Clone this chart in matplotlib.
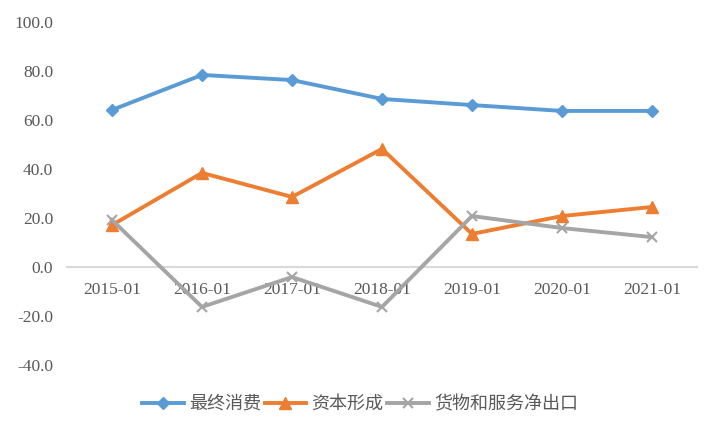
import matplotlib
matplotlib.use("Agg")
import matplotlib.pyplot as plt

plt.rcParams["font.family"] = ["Liberation Serif", "Noto Sans CJK SC"]

categories = ["2015-01", "2016-01", "2017-01", "2018-01", "2019-01", "2020-01", "2021-01"]
final_consumption = [64.1, 78.4, 76.3, 68.6, 66.1, 63.7, 63.7]
capital_formation = [17.1, 38.4, 28.6, 48.2, 13.5, 20.8, 24.5]
net_exports = [19.2, -16.3, -4.1, -16.3, 20.8, 15.9, 12.2]
series_names = ["最终消费", "资本形成", "货物和服务净出口"]
y_ticks = [-40, -20, 0, 20, 40, 60, 80, 100]

fig = plt.figure(figsize=(7.2, 4.32), dpi=100)
ax = fig.add_axes([67/720, 1-365/432, 630/720, 343/432])

for s in ["top", "right", "left"]:
    ax.spines[s].set_visible(False)
ax.spines["bottom"].set_position(("data", 0))
ax.spines["bottom"].set_color("#D9D9D9")
ax.spines["bottom"].set_linewidth(1.5)
ax.spines["bottom"].set_zorder(0)

x = list(range(len(categories)))
ax.plot(x, final_consumption, color="#5B9BD5", lw=2.8, marker="D", ms=6.5, label=series_names[0])
ax.plot(x, capital_formation, color="#ED7D31", lw=2.8, marker="^", ms=8, label=series_names[1])
ax.plot(x, net_exports, color="#A5A5A5", lw=2.8, marker="x", ms=7, mew=1.5, label=series_names[2])

ax.set_xlim(-0.5, len(categories) - 0.5)
ax.set_ylim(-40, 100)
ax.set_yticks(y_ticks)
ax.set_yticklabels([f"{v:.1f}" for v in y_ticks])
ax.set_xticks(x)
ax.set_xticklabels(categories)
ax.tick_params(axis="both", length=0, labelsize=12.5, labelcolor="#595959")
ax.tick_params(axis="x", pad=11)
ax.tick_params(axis="y", pad=10)

leg = fig.legend(loc="center", bbox_to_anchor=(0.5, 1 - 404/432), ncol=3, frameon=False,
                 prop={"family": ["Noto Sans CJK SC"], "size": 13}, handlelength=2.3,
                 handletextpad=0.3, columnspacing=0.2)
for t in leg.get_texts():
    t.set_color("#595959")

fig.savefig("out.png", dpi=100)
